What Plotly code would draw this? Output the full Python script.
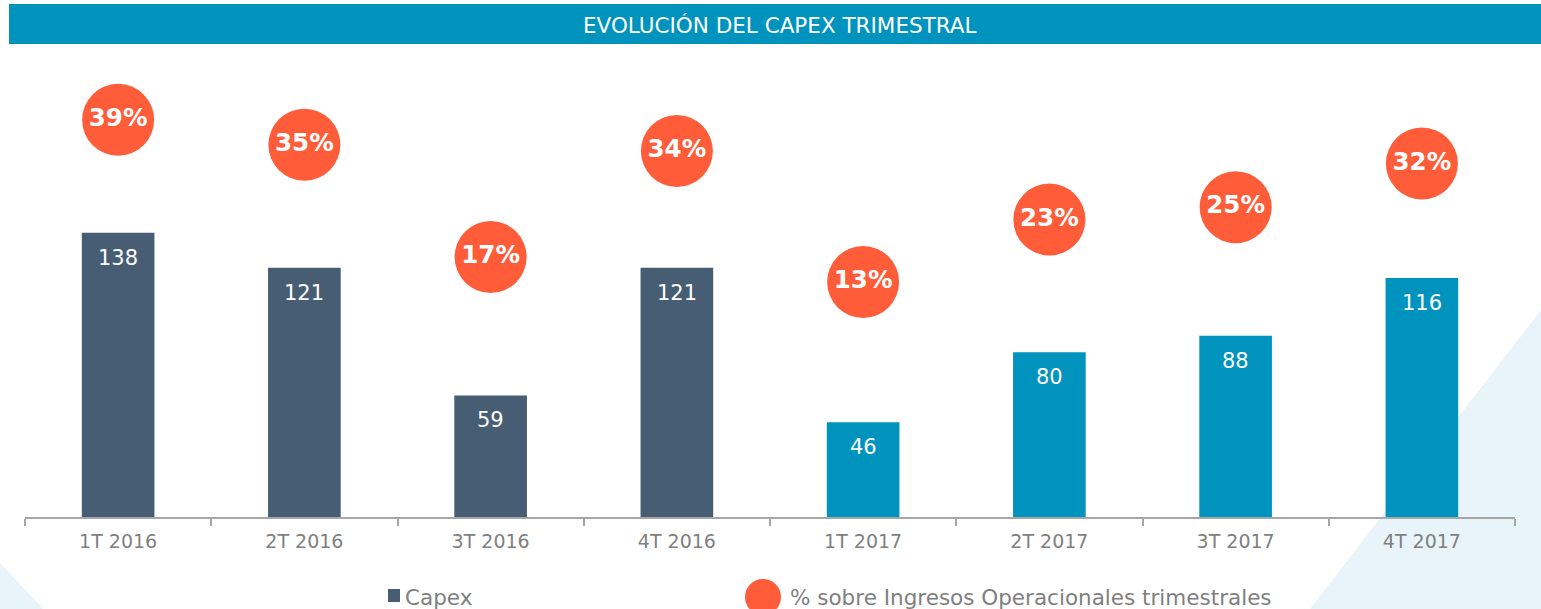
import plotly.graph_objects as go

# ---- data ----
categories = ["1T 2016", "2T 2016", "3T 2016", "4T 2016",
              "1T 2017", "2T 2017", "3T 2017", "4T 2017"]
capex = [138, 121, 59, 121, 46, 80, 88, 116]
pct_ingresos = [39, 35, 17, 34, 13, 23, 25, 32]
pct_labels = ["39%", "35%", "17%", "34%", "13%", "23%", "25%", "32%"]
title_text = "EVOLUCIÓN DEL CAPEX TRIMESTRAL"
legend_capex = "Capex"
legend_pct = "% sobre Ingresos Operacionales trimestrales"

# ---- style ----
W, H = 1541, 609
ML, MR, MT, MB = 25, 26, 60, 92
PW, PH = W - ML - MR, H - MT - MB
C2016 = "#475D74"
C2017 = "#0093BE"
CORANGE = "#FF5C39"
CHEADER = "#0093BE"
CBG = "#E8F4FA"
CTEXT = "#7F7F7F"
FONT = "DejaVu Sans"

bar_colors = [C2016 if "2016" in c else C2017 for c in categories]


def px(x):
    return (x - ML) / PW


def py(y):
    return (H - MB - y) / PH


fig = go.Figure()
fig.add_trace(go.Bar(
    x=categories, y=capex, marker_color=bar_colors, width=0.39,
    marker_line_width=0, showlegend=False, hoverinfo="skip"))
fig.add_trace(go.Scatter(
    x=categories, y=pct_ingresos, yaxis="y2", mode="markers+text",
    marker=dict(size=72, color=CORANGE, line=dict(width=0)),
    text=pct_labels, textposition="middle center",
    textfont=dict(family=FONT, size=24.5, color="white", weight="bold"),
    showlegend=False, hoverinfo="skip"))

annotations = []
for c, v in zip(categories, capex):
    annotations.append(dict(x=c, y=v, xref="x", yref="y", text=str(v),
                            showarrow=False, yshift=-25, yanchor="middle",
                            font=dict(family=FONT, size=21, color="white")))

# title
annotations.append(dict(x=px(780), y=py(25), xref="paper", yref="paper",
                        xanchor="center", yanchor="middle",
                        text=title_text, showarrow=False,
                        font=dict(family=FONT, size=21.5, color="white")))
# legend
annotations.append(dict(x=px(403), y=py(597), xref="paper", yref="paper",
                        xanchor="left", yanchor="middle",
                        text=legend_capex, showarrow=False,
                        font=dict(family=FONT, size=21.5, color=CTEXT)))
annotations.append(dict(x=px(788), y=py(597), xref="paper", yref="paper",
                        xanchor="left", yanchor="middle",
                        text=legend_pct, showarrow=False,
                        font=dict(family=FONT, size=21.5, color=CTEXT)))

shapes = [
    # background triangles
    dict(type="path", xref="paper", yref="paper", layer="below",
         path=f"M {px(1541)},{py(310)} L {px(1310)},{py(609)} L {px(1541)},{py(609)} Z",
         fillcolor=CBG, line=dict(width=0)),
    dict(type="path", xref="paper", yref="paper", layer="below",
         path=f"M {px(0)},{py(563)} L {px(43)},{py(609)} L {px(0)},{py(609)} Z",
         fillcolor=CBG, line=dict(width=0)),
    # header band
    dict(type="rect", xref="paper", yref="paper", layer="below",
         x0=px(9), x1=px(1541), y0=py(44), y1=py(4),
         fillcolor=CHEADER, line=dict(width=0)),
    # legend markers
    dict(type="rect", xref="paper", yref="paper",
         x0=px(388), x1=px(400), y0=py(602), y1=py(589),
         fillcolor=C2016, line=dict(width=0)),
    dict(type="circle", xref="paper", yref="paper",
         x0=px(745), x1=px(781), y0=py(615), y1=py(579),
         fillcolor=CORANGE, line=dict(width=0)),
]

fig.update_layout(
    width=W, height=H,
    margin=dict(l=ML, r=MR, t=MT, b=MB, pad=0),
    paper_bgcolor="white", plot_bgcolor="rgba(0,0,0,0)",
    showlegend=False,
    xaxis=dict(type="category", range=[-0.5, 7.5], showline=True,
               linecolor="#A6A6A6", linewidth=1.5, ticks="outside",
               tickson="boundaries", ticklen=7, tickcolor="#A6A6A6",
               tickwidth=1.5, showgrid=False, zeroline=False,
               ticklabelstandoff=6,
               tickfont=dict(family=FONT, size=19, color=CTEXT)),
    yaxis=dict(range=[0, PH / 2.06], visible=False, showgrid=False,
               zeroline=False),
    yaxis2=dict(range=[-24.7, 48.6], overlaying="y", visible=False,
                showgrid=False, zeroline=False),
    annotations=annotations,
    shapes=shapes,
)

fig.write_html("out.html", config={"displayModeBar": False},
               post_script="document.body.style.margin='0';document.body.style.overflow='hidden';")
